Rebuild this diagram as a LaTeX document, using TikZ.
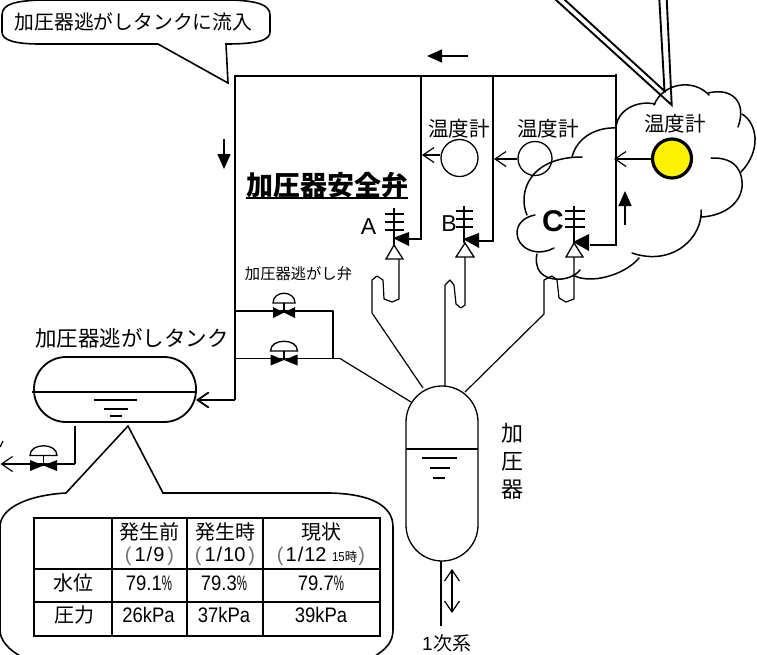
\documentclass[tikz,border=0pt]{standalone}
\usepackage{fontspec}
\setmainfont{Liberation Sans}
\newfontfamily\jp{Noto Sans CJK JP}
\newfontfamily\narrowlat[FakeStretch=0.88]{Liberation Sans}
\usetikzlibrary{arrows.meta}
\newcommand{\fs}[1]{\fontsize{#1}{#1}\selectfont}
\newcommand{\pct}{\scalebox{0.62}[1]{\%}}
\tikzset{
  thick pipe/.style={line width=1.8pt,line join=miter},
  thin pipe/.style={line width=1.2pt,line join=round},
  openhead/.style={-{Straight Barb[length=11pt,width=15pt,line width=1.2pt]},line width=1.2pt},
  flowarrow/.style={-{Triangle[length=15pt,width=13pt]},line width=1.6pt},
  cloudline/.style={line width=1.5pt,line cap=round},
  tablegrid/.style={line width=1.5pt},
  lab/.style={inner sep=0pt,outer sep=0pt,align=center},
  gaugecircle/.style={draw,line width=1.3pt,fill=white}
}
\newcommand{\ctlvalve}[5]{%
  \fill (#1-#3,#2-5.5) -- (#1+#3,#2+5.5) -- (#1+#3,#2-5.5) -- (#1-#3,#2+5.5) -- cycle;
  \draw[line width=1.2pt] (#1,#2) -- (#1,#2-#5);
  \draw[line width=1.3pt,fill=white] (#1-#4,#2-#5) .. controls (#1-#4,#2-#5-13) and (#1+#4,#2-#5-13) .. (#1+#4,#2-#5) -- cycle;
}
\begin{document}
\begin{tikzpicture}[x=1pt,y=-1pt]
\clip (0,0) rectangle (757,654);
\fill[white] (0,0) rectangle (757,654);

% callout top-left
\draw[line width=1.6pt,fill=white] (2,15) .. controls (2,3) and (18,1) .. (40,0)
  -- (232,0) .. controls (258,1) and (270,5) .. (270,15) -- (270,32)
  .. controls (270,40) and (258,44) .. (226,44) -- (228,83) -- (158,44) -- (40,44)
  .. controls (14,44) and (2,40) .. (2,32) -- cycle;
\node[lab] (calltext) at (133.5,22) {\jp\fs{19.8}加圧器逃がしタンクに流入};

% piping
\coordinate (topL) at (235,76);
\coordinate (topR) at (616,76);
\coordinate (tankin) at (197,400);
\draw[thick pipe] (tankin -| topL) -- (topL) -- (topR);
\draw[thick pipe] (616,74) -- (616,245) -- (590,245);
\draw[thick pipe] (421,76) -- (421,239) -- (409,239);
\draw[thick pipe] (493,76) -- (493,241) -- (478,241);
\draw[openhead,line width=1.8pt] (235,400) -- (tankin);

% flow arrows
\draw[flowarrow] (224,139) -- (224,169);
\draw[flowarrow] (468,56) -- (427,56);
\draw[flowarrow] (625,225) -- (625,191);

% relief valves lines
\draw[thin pipe] (235,311) -- (333,311) -- (333,359);
\draw[line width=1.6pt] (235,358.5) -- (340,358.5);
\draw[thin pipe] (340,358.5) -- (411,402);
\ctlvalve{284}{312.5}{11}{11}{9.5}
\ctlvalve{284}{360}{13.5}{13.5}{9}

% pressurizer
\draw[line width=1.3pt,rounded corners=36pt,fill=white] (406,386) rectangle (478,561);
\draw[line width=1.4pt] (406,449) -- (478,449);
\draw[line width=1.3pt] (422,458) -- (457,458) (430,468) -- (450,468) (433,478) -- (445,478);
\draw[thin pipe] (441,561) -- (441,626);
\draw[line width=1.2pt,{Straight Barb[length=11pt,width=15pt]}-{Straight Barb[length=11pt,width=15pt]}] (452,569) -- (452,613);
\node[lab] (primary) at (447,643) {\fs{19}1\kern1pt\jp 次系};
\node[lab] (pk1) at (512,433) {\jp\fs{22}加};
\node[lab] (pk2) at (512,462) {\jp\fs{22}圧};
\node[lab] (pk3) at (512,490) {\jp\fs{22}器};

% wiggles A B C
\draw[thin pipe] (399,259) -- (399,299) -- (392,302) -- (384,299) -- (383,280) -- (377,276) -- (372,280) -- (372,313) -- (423,388);
\draw[thin pipe] (465,257) -- (465,305) -- (461,308) -- (456,304) -- (454,285) -- (450,280) -- (445,285) -- (445,386);
\draw[thin pipe] (574,257) -- (574,299) -- (566,302) -- (559,298) -- (557,280) -- (552,276) -- (544,280) -- (544,314) -- (465,392);

% valve A
\draw[line width=1.2pt] (394,208) -- (394,245) (385,214) -- (404,214) (385,222) -- (404,222) (385,230) -- (404,230);
\draw[line width=1.3pt,fill=white] (394,245) -- (403,259) -- (386,259) -- cycle;
\fill (393,238) -- (409,232) -- (409,246) -- cycle;
% valve B
\draw[line width=1.2pt] (464,206) -- (464,243) (456,211) -- (473,211) (456,219) -- (473,219) (456,227) -- (473,227);
\draw[line width=1.3pt,fill=white] (465,243) -- (474,257) -- (456,257) -- cycle;
\fill (463,239) -- (479,233) -- (479,248) -- cycle;
% valve C
\draw[line width=1.2pt] (574,206) -- (574,243) (565,211) -- (585,211) (565,219) -- (585,219) (565,227) -- (585,227);
\draw[line width=1.3pt,fill=white] (574,243) -- (583,257) -- (566,257) -- cycle;
\fill (573,242) -- (589,234) -- (589,251) -- cycle;

% gauges
\node[gaugecircle,circle,minimum size=37pt,inner sep=0pt] (g1) at (459.5,158) {};
\node[gaugecircle,circle,minimum size=34pt,inner sep=0pt] (g2) at (535,158.5) {};
\node[circle,draw,line width=3.2pt,fill=yellow,minimum size=39pt,inner sep=0pt] (g3) at (672,158.5) {};
\coordinate (g1to) at (422,155);
\coordinate (g2to) at (494,159);
\coordinate (g3to) at (614,159);
\draw[openhead] (g1.west |- g1to) -- (g1to);
\draw[openhead] (g2.west |- g2to) -- (g2to);
\draw[openhead] (g3.west |- g3to) -- (g3to);
\node[lab] (t1) at (459,129) {\jp\fs{20.5}温度計};
\node[lab] (t2) at (548,129) {\jp\fs{20.5}温度計};
\node[lab] (t3) at (675,124) {\jp\fs{20.5}温度計};

% double tail
\draw[line width=1.9pt,fill=white,line join=miter] (552.7,-3) -- (671.7,105) -- (666.6,-3);
\draw[line width=1.9pt,fill=white,line join=miter] (561.7,-3) -- (664.5,91) -- (659.2,-3);

% clouds
\draw[cloudline] (616,128) .. controls (617,110) and (637,100) .. (655,104);
\draw[cloudline] (654,105) .. controls (663,83) and (693,78) .. (709,95);
\draw[cloudline] (708,93) .. controls (733,87) and (747,103) .. (738,127);
\draw[cloudline] (742,114) .. controls (757,123) and (762,150) .. (741,172);
\draw[cloudline] (711,158) .. controls (737,157) and (743,173) .. (742,187) .. controls (740,205) and (722,216) .. (701,217);
\draw[cloudline] (701,210) .. controls (703,237) and (673,267) .. (632,253);
\draw[cloudline] (639,258) .. controls (625,275) and (590,285) .. (573,275);
\draw[cloudline] (580,270) .. controls (570,283) and (540,283) .. (537,265) .. controls (536,261) and (536,258) .. (537,254);
\draw[cloudline] (554,248) .. controls (535,258) and (517,247) .. (517,233) .. controls (517,224) and (524,217) .. (535,215);
\draw[cloudline] (527,215) .. controls (518,195) and (527,157) .. (582,157);
\draw[cloudline] (572,157) .. controls (577,137) and (597,127) .. (616,128);

% safety valve title and letters
\node[lab] (title) at (327,185) {\jp\bfseries\fs{27}加圧器安全弁};
\draw[line width=2pt] (246,198) -- (408,198);
\node[lab] (la) at (368.5,227) {\fs{23}A};
\node[lab] (lb) at (449,224) {\fs{23}B};
\node[lab] (lc) at (553,221) {\bfseries\fs{30}C};
\node[lab] (relief) at (298.5,274) {\jp\fs{15.3}加圧器逃がし弁};
\node[lab] (tanklab) at (132,338) {\jp\fs{21.5}加圧器逃がしタンク};

% relief tank
\draw[line width=1.8pt,rounded corners=32pt,fill=white] (34,357) rectangle (196,422);
\draw[line width=1.6pt] (32,392) -- (196,392);
\draw[line width=1.4pt] (94,400) -- (137,400) (104,409) -- (128,409) (110,416) -- (122,416);
\coordinate (tankin2) at (196,400);
\draw[openhead,line width=1.8pt] (205,400) -- (tankin2);

% drain
\draw[thin pipe] (75,426) -- (75,464);
\draw[openhead] (75,464) -- (0.5,464);
\draw[line width=1.2pt] (3,441) -- (0,447);
\ctlvalve{43.5}{465.5}{13.5}{13.5}{10}

% data callout
\draw[line width=1.6pt,fill=white] (66,493) -- (128,426) -- (163,493) -- (330,493)
  .. controls (370,494) and (393,505) .. (393,527) -- (393,630)
  .. controls (393,643) and (385,650) .. (372,658) -- (24,658)
  .. controls (8,650) and (0,640) .. (0,630) -- (0,527)
  .. controls (0,507) and (30,495) .. (66,493);

% table
\draw[tablegrid] (34,518) rectangle (380,636);
\draw[tablegrid] (34,569) -- (380,569) (34,602) -- (380,602);
\draw[tablegrid] (112,518) -- (112,636) (187,518) -- (187,636) (263,518) -- (263,636);
\node[lab] (h1) at (149.5,532) {\jp\fs{20}発生前};
\node[lab] (h2) at (225,532) {\jp\fs{20}発生時};
\node[lab] (h3) at (321,532) {\jp\fs{20}現状};
\node[lab] (d1) at (149.5,556) {\fs{20}\textcolor{black!55}{(}\kern3pt 1\kern1pt/\kern1pt9\kern3pt\textcolor{black!55}{)}};
\node[lab] (d2) at (225,556) {\fs{20}\textcolor{black!55}{(}\kern3pt 1\kern1pt/\kern1pt10\kern3pt\textcolor{black!55}{)}};
\node[lab] (d3) at (321,556) {\fs{20}\textcolor{black!55}{(}\kern2pt 1\kern1pt/\kern1pt12 \fs{13}\narrowlat 15\jp\fs{12.5}時\fs{20}\rmfamily\kern1pt\textcolor{black!55}{)}};
\node[lab] (r1) at (73,583) {\jp\fs{20}水位};
\node[lab] (r2) at (74,615) {\jp\fs{20}圧力};
\node[lab] (v11) at (149,583) {\narrowlat\fs{21}79.1\pct};
\node[lab] (v12) at (224,583) {\narrowlat\fs{21}79.3\pct};
\node[lab] (v13) at (321,583) {\narrowlat\fs{21}79.7\pct};
\node[lab] (v21) at (148.5,615) {\narrowlat\fs{21}26kPa};
\node[lab] (v22) at (224,615) {\narrowlat\fs{21}37kPa};
\node[lab] (v23) at (321,615) {\narrowlat\fs{21}39kPa};
\end{tikzpicture}
\end{document}
